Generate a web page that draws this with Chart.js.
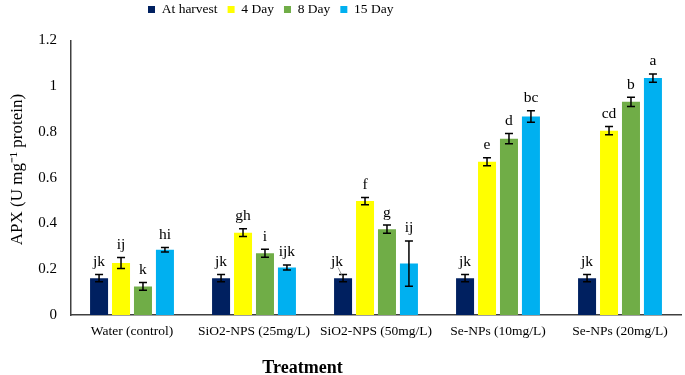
<!DOCTYPE html>
<html>
<head>
<meta charset="utf-8">
<script src="https://cdn.jsdelivr.net/npm/chart.js@4.4.1/dist/chart.umd.min.js"></script>
<style>
  html, body { margin: 0; padding: 0; background: #ffffff; }
  #wrap { width: 685px; height: 375px; }
</style>
</head>
<body>
<div id="wrap"><canvas id="c" width="685" height="375"></canvas></div>
<script>
// ---- data ----
const categories = ["Water (control)", "SiO2-NPS (25mg/L)", "SiO2-NPS (50mg/L)", "Se-NPs (10mg/L)", "Se-NPs (20mg/L)"];
const seriesNames = ["At harvest", "4 Day", "8 Day", "15 Day"];
const atHarvest = [0.161, 0.161, 0.161, 0.161, 0.161];
const day4 = [0.227, 0.360, 0.498, 0.670, 0.806];
const day8 = [0.125, 0.270, 0.375, 0.771, 0.932];
const day15 = [0.285, 0.208, 0.225, 0.868, 1.036];
const errHarvest = [0.016, 0.016, 0.016, 0.016, 0.016];
const err4 = [0.024, 0.017, 0.016, 0.017, 0.018];
const err8 = [0.017, 0.017, 0.018, 0.022, 0.020];
const err15 = [0.010, 0.011, 0.099, 0.025, 0.018];
const lettersHarvest = ["jk", "jk", "jk", "jk", "jk"];
const letters4 = ["ij", "gh", "f", "e", "cd"];
const letters8 = ["k", "i", "g", "d", "b"];
const letters15 = ["hi", "ijk", "ij", "bc", "a"];
const yTickValues = [0, 0.2, 0.4, 0.6, 0.8, 1, 1.2];
const yTickLabels = ["0", "0.2", "0.4", "0.6", "0.8", "1", "1.2"];
const xTitle = "Treatment";
const yTitle = "APX (U mg\u207B\u00B9 protein)";

const colors = ["#002060", "#FFFF00", "#70AD47", "#00B0F0"];
const values = [atHarvest, day4, day8, day15];
const errors = [errHarvest, err4, err8, err15];
const letters = [lettersHarvest, letters4, letters8, letters15];

const SERIF = "'Liberation Serif', 'Times New Roman', serif";

const errorBarPlugin = {
  id: 'errorBars',
  afterDatasetsDraw(chart) {
    const ctx = chart.ctx;
    const yScale = chart.scales.y;
    ctx.save();
    chart.data.datasets.forEach((ds, di) => {
      const meta = chart.getDatasetMeta(di);
      meta.data.forEach((bar, i) => {
        const v = ds.data[i];
        const e = errors[di][i];
        const x = bar.x;
        const yTop = yScale.getPixelForValue(v + e);
        const yBot = yScale.getPixelForValue(v - e);
        ctx.strokeStyle = '#000000';
        ctx.lineWidth = 1.5;
        ctx.beginPath();
        ctx.moveTo(x, yTop); ctx.lineTo(x, yBot);
        ctx.moveTo(x - 4, yTop); ctx.lineTo(x + 4, yTop);
        ctx.moveTo(x - 4, yBot); ctx.lineTo(x + 4, yBot);
        ctx.stroke();
        // significance letter
        let lx = x;
        const ly = yTop - 12.5;
        const nudge = (di === 0 && i === 2);
        if (nudge) {
          lx = x - 6;
          ctx.strokeStyle = '#7f7f7f';
          ctx.lineWidth = 0.8;
          ctx.beginPath();
          ctx.moveTo(x - 5, yTop - 7);
          ctx.lineTo(x - 1, yTop + 1);
          ctx.stroke();
        }
        ctx.fillStyle = '#000000';
        ctx.font = "15.5px " + SERIF;
        ctx.textAlign = 'center';
        ctx.textBaseline = 'middle';
        ctx.fillText(letters[di][i], lx, ly);
      });
    });
    ctx.restore();
  }
};

const shiftPlugin = {
  id: 'shiftBoxes',
  afterLayout(chart) {
    const lg = chart.legend;
    if (lg && lg.lineWidths) {
      const pad = lg.options.labels.padding;
      const cur = (lg.left + pad + lg.right - lg.lineWidths[0]) / 2;
      const dx = 148 - cur;
      lg.left += dx; lg.right += dx;
      const fs = lg.options.labels.font.size;
      const cy = lg.top + pad + fs / 2;
      const dy = 9.5 - cy;
      lg.top += dy; lg.bottom += dy;
    }
    chart.boxes.forEach(b => {
      if (!b.options || b === lg) return;
      if (b.options.text === xTitle) {
        const c = (b.left + b.right) / 2;
        const dx = 302.5 - c;
        b.left += dx; b.right += dx;
        b.top += 3; b.bottom += 3;
      } else if (b.options.text === yTitle) {
        const c = (b.top + b.bottom) / 2;
        const dy = 169.5 - c;
        b.top += dy; b.bottom += dy;
      }
    });
  }
};

const chart = new Chart(document.getElementById('c'), {
  type: 'bar',
  data: {
    labels: categories,
    datasets: seriesNames.map((name, k) => ({
      label: name,
      data: values[k],
      backgroundColor: colors[k],
      borderWidth: 0,
      barPercentage: 0.82,
      categoryPercentage: 0.72
    }))
  },
  options: {
    responsive: false,
    animation: false,
    devicePixelRatio: 1,
    layout: { padding: { left: 0, right: 4, top: 7, bottom: 0 } },
    plugins: {
      legend: {
        display: true,
        position: 'top',
        labels: {
          boxWidth: 7,
          boxHeight: 7,
          padding: 10,
          color: '#000000',
          font: { family: SERIF, size: 13.5 }
        }
      },
      title: {
        display: true,
        position: 'bottom',
        text: xTitle,
        color: '#000000',
        font: { family: SERIF, size: 18, weight: 'bold', lineHeight: 1 },
        padding: { top: 0, bottom: 1 }
      },
      subtitle: {
        display: true,
        position: 'left',
        text: yTitle,
        color: '#000000',
        font: { family: SERIF, size: 17, lineHeight: 1.2 },
        padding: { top: 7, bottom: 0 }
      },
      tooltip: { enabled: false }
    },
    scales: {
      x: {
        grid: { display: false },
        border: { display: true, color: '#404040', width: 1.5 },
        ticks: {
          color: '#000000',
          font: { family: SERIF, size: 13.5 },
          padding: 0,
          maxRotation: 0,
          autoSkip: false
        },
        afterFit(scale) { scale.height = 41; }
      },
      y: {
        min: 0,
        max: 1.2,
        grid: { display: false },
        border: { display: true, color: '#404040', width: 1.5 },
        afterBuildTicks(scale) {
          scale.ticks = yTickValues.map(v => ({ value: v }));
        },
        ticks: {
          color: '#000000',
          font: { family: SERIF, size: 15 },
          padding: 6,
          callback(value) {
            const idx = yTickValues.findIndex(t => Math.abs(t - value) < 1e-9);
            return idx >= 0 ? yTickLabels[idx] : '';
          }
        },
        afterFit(scale) { scale.width = 71 - 27.4; }
      }
    }
  },
  plugins: [errorBarPlugin, shiftPlugin]
});
</script>
</body>
</html>
